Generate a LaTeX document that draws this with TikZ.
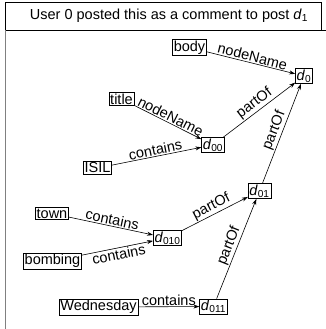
\documentclass[tikz,border=0pt]{standalone}
\usepackage{fontspec}
\setmainfont{Liberation Sans}
\usetikzlibrary{arrows.meta}
\newcommand{\dd}[1]{\textit{d}\textsubscript{#1}}
\begin{document}
\begin{tikzpicture}[x=1pt,y=-1pt,
  box/.style={draw,line width=0.6pt,inner sep=1.2pt,font=\fontsize{14.5}{16}\selectfont},
  edge/.style={-{Stealth[length=6pt,width=4pt]},line width=0.6pt},
  lab/.style={font=\fontsize{14.5}{16}\selectfont,sloped,inner sep=1pt}]
\useasboundingbox (0,0) rectangle (326,329);
% frame
\draw[line width=0.6pt] (5,2) rectangle (321,30);
\draw[line width=0.6pt] (5,30) -- (326,30);
\draw[line width=1.4pt,gray] (5.5,30) -- (5.5,329);
\node[font=\fontsize{14.5}{16}\selectfont] (hdr) at (169,16) {User 0 posted this as a comment to post \dd{1}};
% nodes
\node[box] (body) at (189.5,47.5) {body};
\node[box] (d0) at (304,76) {\dd{0}};
\node[box] (title) at (121.5,99) {title};
\node[box] (d00) at (213,145) {\dd{00}};
\node[box] (isil) at (97.5,168) {ISIL};
\node[box] (d01) at (259.5,191) {\dd{01}};
\node[box] (town) at (52,213.5) {town};
\node[box] (d010) at (167.5,238) {\dd{010}};
\node[box] (bombing) at (52.5,261) {bombing};
\node[box] (wed) at (98.5,307) {Wednesday};
\node[box] (d011) at (213.5,306.5) {\dd{011}};
% edges
\draw[edge] (body) -- node[lab,above] {nodeName} (d0);
\draw[edge] (title) -- node[lab,above] {nodeName} (d00);
\draw[edge] (isil) -- node[lab,above] {contains} (d00);
\draw[edge] (d00) -- node[lab,above] {partOf} (d0);
\draw[edge] (d01) -- node[lab,above] {partOf} (d0);
\draw[edge] (d010) -- node[lab,above] {partOf} (d01);
\draw[edge] (town) -- node[lab,above] {contains} (d010);
\draw[edge] (bombing) -- node[lab,below] {contains} (d010);
\draw[edge] (wed) -- node[lab,above] {contains} (d011);
\draw[edge] (d011) -- node[lab,above] {partOf} (d01);
\end{tikzpicture}
\end{document}
